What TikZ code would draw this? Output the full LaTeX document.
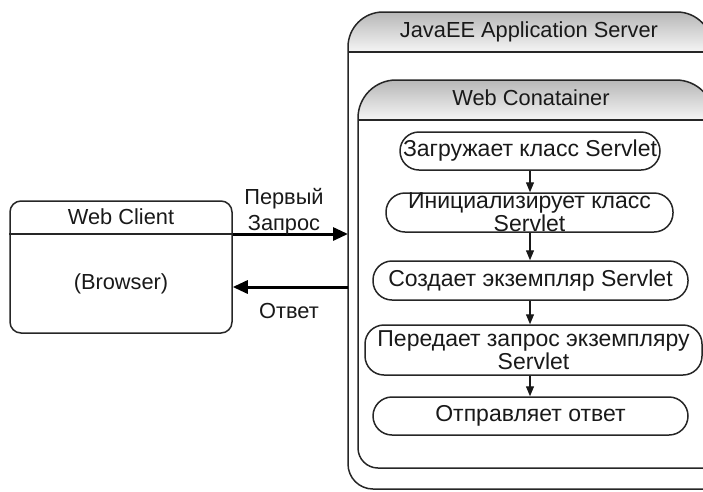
\documentclass[tikz,border=0pt]{standalone}
\usepackage{fontspec}
\setmainfont{Liberation Sans}
\usetikzlibrary{arrows.meta}
\begin{document}
\begin{tikzpicture}[x=1pt,y=-1pt,
  frame/.style={draw=black!85, line width=1.5pt},
  headfill/.style={top color=black!28, bottom color=black!4},
  txt/.style={font=\fontsize{21.8}{24}\selectfont, text=black!90, inner sep=0pt, align=center},
  stepbox/.style={frame, rounded corners=19pt, inner sep=0pt},
  steptext/.style={font=\fontsize{23}{23.5}\selectfont, text=black!90, inner sep=0pt, align=center},
  flow/.style={draw=black!90, line width=1.3pt, -{Triangle[length=10pt,width=8pt]}},
  bigflow/.style={draw=black, line width=3pt, -{Triangle[length=15pt,width=13pt]}}
]
\useasboundingbox (0,0) rectangle (703,491);
\clip (0,0) rectangle (703,491);

% application server frame with shaded header
\shade[headfill] (712,52) [rounded corners=35pt] -- (712,12) -- (348,12) [sharp corners] -- (348,52) -- cycle;
\draw[frame] (712,489) [rounded corners=35pt] -- (712,12) -- (348,12) [rounded corners=25pt] -- (348,489) -- (712,489);
\draw[frame] (348,52) -- (712,52);
\node[txt] (server) at (529,32) {JavaEE Application Server};

% web container frame with shaded header
\shade[headfill] (714,120) [rounded corners=38pt] -- (714,80) -- (358,80) [sharp corners] -- (358,120) -- cycle;
\draw[frame] (714,468) [rounded corners=38pt] -- (714,80) -- (358,80) [rounded corners=20pt] -- (358,468) -- (714,468);
\draw[frame] (358,120) -- (714,120);
\node[txt] (container) at (531,98) {Web Conatainer};

% edge points of the server frame
\coordinate (srvReq) at (348,234);
\coordinate (srvResp) at (348,287);

% web client
\node[frame, rounded corners=11pt, minimum width=222pt, minimum height=132pt, inner sep=0pt] (client) at (121,267) {};
\draw[frame] (client.west |- srvReq) -- (client.east |- srvReq);
\node[txt] (clientTitle) at (121,217) {Web Client};
\node[txt] (browser) at (121,284) {(Browser)};

% request and response
\draw[bigflow] (client.east |- srvReq) -- (srvReq);
\draw[bigflow] (srvResp) -- (client.east |- srvResp);
\node[txt] (reqLabel1) at (284,199) {Первый};
\node[txt] (reqLabel2) at (284,225) {Запрос};
\node[txt] (respLabel) at (289,311) {Ответ};

% servlet lifecycle steps
\node[stepbox, minimum width=260pt, minimum height=38pt] (s1) at (530,151) {};
\node[steptext] at (s1.center) {Загружает класс Servlet};
\node[stepbox, minimum width=287pt, minimum height=39pt] (s2) at (529.5,212.5) {};
\node[steptext] at (529.5,212) {Инициализирует класс\\Servlet};
\node[stepbox, minimum width=315pt, minimum height=39pt] (s3) at (530.5,280.5) {};
\node[steptext] at (s3.center) {Создает экземпляр Servlet};
\node[stepbox, minimum width=337pt, minimum height=50pt] (s4) at (533.5,350) {};
\node[steptext] at (533.5,350) {Передает запрос экземпляру\\Servlet};
\node[stepbox, minimum width=315pt, minimum height=38pt] (s5) at (530.5,416) {};
\node[steptext] at (s5.center) {Отправляет ответ};

% flow between the steps
\draw[flow] (s1.south) -- (s1.south |- s2.north);
\draw[flow] (s1.south |- s2.south) -- (s1.south |- s3.north);
\draw[flow] (s1.south |- s3.south) -- (s1.south |- s4.north);
\draw[flow] (s1.south |- s4.south) -- (s1.south |- s5.north);
\end{tikzpicture}
\end{document}
